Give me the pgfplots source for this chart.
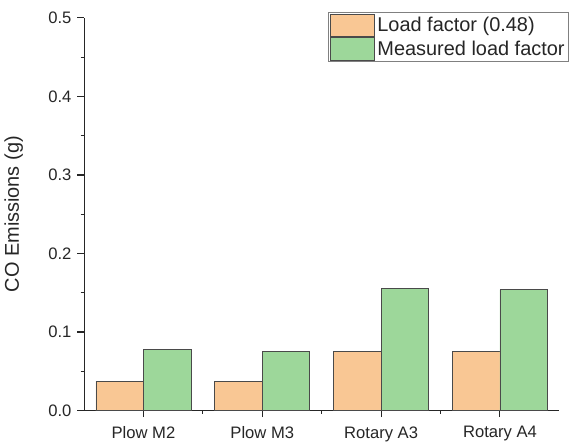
\documentclass[border=0pt]{standalone}
\usepackage{fontspec}
\setmainfont{Liberation Sans}
\usepackage{pgfplots}
\pgfplotsset{compat=1.18}
\definecolor{barorange}{HTML}{F9C794}
\definecolor{bargreen}{HTML}{9DD79A}
\definecolor{edge}{HTML}{4A4A4A}
\begin{document}
\begin{tikzpicture}
\begin{axis}[
 scale only axis, width=357.75pt, height=295.5pt,
 xmin=-0.5, xmax=3.5, ymin=0, ymax=0.5,
 axis x line*=bottom, axis y line*=left,
 axis line style={-, line width=0.8pt, black!85},
 xtick={0,1,2,3}, xticklabels={Plow M2, Plow M3, Rotary A3, Rotary A4},
 minor xtick={0.5,1.5,2.5},
 ytick={0,0.1,0.2,0.3,0.4,0.5}, minor ytick={0.05,0.15,0.25,0.35,0.45},
 tick align=outside, major tick length=5pt, minor tick length=2.5pt,
 tick style={black!85, line width=0.8pt},
 tick label style={font=\fontsize{12.5}{15}\selectfont, black!85},
 xticklabel style={yshift=-3.5pt},
 yticklabel style={xshift=-1pt, /pgf/number format/.cd, fixed, fixed zerofill, precision=1, assume math mode=true},
 ylabel={CO Emissions (g)},
 ylabel style={font=\fontsize{15}{18}\selectfont, black!85, at={(axis description cs:-0.148,0.5)}, anchor=center},
 legend style={at={(axis description cs:0.514,1.015)}, anchor=north west, draw=black!50, line width=0.6pt,
   font=\fontsize{15}{18}\selectfont, inner sep=1pt, row sep=0pt, cells={anchor=west}, text=black!85},
 legend image code/.code={\draw[#1] (0pt,-8.5pt) rectangle (33pt,8.5pt);},
 bar width=0.4,
]
\addplot[ybar, bar shift=-0.2, fill=barorange, draw=edge, line width=0.6pt] coordinates {(0,0.0375) (1,0.0375) (2,0.075) (3,0.075)};
\addlegendentry{Load factor (0.48)}
\addplot[ybar, bar shift=0.2, fill=bargreen, draw=edge, line width=0.6pt] coordinates {(0,0.0775) (1,0.0748) (2,0.155) (3,0.1538)};
\addlegendentry{Measured load factor}
\end{axis}
\path ([yshift=13.5pt]current axis.north west);
\path ([yshift=-22.5pt]current axis.south west);
\end{tikzpicture}
\end{document}
